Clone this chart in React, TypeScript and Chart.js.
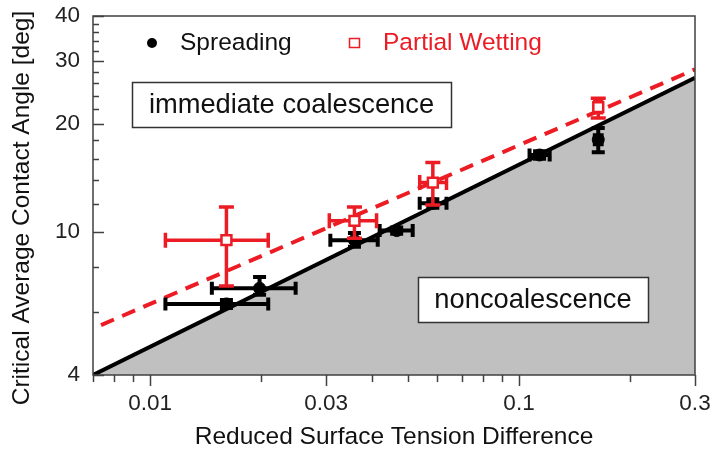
import React, { useEffect, useRef } from 'react';
import { Chart, registerables } from 'chart.js';

Chart.register(...registerables);

// ---- data ----
const spreadX = [0.0161, 0.0198, 0.0358, 0.0466, 0.0584, 0.1137, 0.164];
const spreadY = [6.31, 6.98, 9.5, 10.1, 12.03, 16.4, 18.1];
const spreadXLow = [0.011, 0.0147, 0.0308, 0.0419, 0.0538, 0.1068, 0.1605];
const spreadXHigh = [0.0209, 0.0248, 0.0414, 0.0515, 0.0636, 0.1211, 0.1675];
const spreadYLow = [6.15, 6.69, 9.1, 9.9, 11.7, 16.0, 16.7];
const spreadYHigh = [6.47, 7.5, 9.95, 10.3, 12.35, 16.8, 19.5];

const wetX = [0.0161, 0.0358, 0.0584, 0.164];
const wetY = [9.5, 10.75, 13.74, 22.3];
const wetXLow = [0.011, 0.0306, 0.0538, 0.1605];
const wetXHigh = [0.0209, 0.0411, 0.0636, 0.1675];
const wetYLow = [7.08, 9.62, 11.9, 20.8];
const wetYHigh = [11.75, 11.75, 15.64, 23.6];

const boundaryX = [0.007, 0.3];
const boundaryY = [4.0, 26.9];
const wetBoundaryX = [0.00736, 0.3];
const wetBoundaryY = [5.51, 28.4];

const xTicks = [0.007, 0.008, 0.009, 0.01, 0.02, 0.03, 0.04, 0.05, 0.06, 0.07, 0.08, 0.09, 0.1, 0.2, 0.3];
const xLabels = [0.01, 0.03, 0.1, 0.3];
const yTicks = [4, 6, 8, 10, 12, 14, 16, 18, 20, 22, 24, 26, 28, 30, 32, 34, 36, 38, 40];
const yLabels = [4, 10, 20, 30, 40];

const seriesNames = ['Spreading', 'Partial Wetting'];
const regionNames = ['immediate coalescence', 'noncoalescence'];
const xTitle = 'Reduced Surface Tension Difference';
const yTitle = 'Critical Average Contact Angle [deg]';

const RED = '#ec1c24';
const FONT = "'Liberation Sans', Arial, sans-serif";

const near = (a: number, list: number[]) => list.some((v) => Math.abs(v - a) / v < 1e-6);
const toPts = (xs: number[], ys: number[]) => xs.map((x, i) => ({ x, y: ys[i] }));

const errorSets: Record<string, any> = {
  [seriesNames[0]]: { x: spreadX, y: spreadY, xl: spreadXLow, xh: spreadXHigh, yl: spreadYLow, yh: spreadYHigh, color: '#000', lw: 4, cap: 6.5 },
  [seriesNames[1]]: { x: wetX, y: wetY, xl: wetXLow, xh: wetXHigh, yl: wetYLow, yh: wetYHigh, color: RED, lw: 3.5, cap: 7.5 },
};

const customPlugin = {
  id: 'customDraw',
  beforeDatasetDraw(chart: any, args: any) {
    const ds = chart.data.datasets[args.index];
    const e = errorSets[ds.label];
    if (!e) return;
    const { ctx, scales } = chart;
    const xs = scales.x, ys = scales.y;
    ctx.save();
    ctx.strokeStyle = e.color;
    ctx.lineWidth = e.lw;
    ctx.lineCap = 'butt';
    for (let i = 0; i < e.x.length; i++) {
      const px = xs.getPixelForValue(e.x[i]);
      const py = ys.getPixelForValue(e.y[i]);
      const x1 = xs.getPixelForValue(e.xl[i]);
      const x2 = xs.getPixelForValue(e.xh[i]);
      const y1 = ys.getPixelForValue(e.yl[i]);
      const y2 = ys.getPixelForValue(e.yh[i]);
      ctx.beginPath();
      if (x2 - x1 > 1) {
        ctx.moveTo(x1, py); ctx.lineTo(x2, py);
        ctx.moveTo(x1, py - e.cap); ctx.lineTo(x1, py + e.cap);
        ctx.moveTo(x2, py - e.cap); ctx.lineTo(x2, py + e.cap);
      }
      if (y1 - y2 > 1) {
        ctx.moveTo(px, y1); ctx.lineTo(px, y2);
        ctx.moveTo(px - e.cap, y1); ctx.lineTo(px + e.cap, y1);
        ctx.moveTo(px - e.cap, y2); ctx.lineTo(px + e.cap, y2);
      }
      ctx.stroke();
    }
    ctx.restore();
  },
  afterDraw(chart: any) {
    const { ctx, chartArea: a, scales } = chart;
    ctx.save();
    // frame
    ctx.strokeStyle = '#404040';
    ctx.lineWidth = 1.5;
    ctx.strokeRect(a.left, a.top, a.right - a.left, a.bottom - a.top);
    // ticks
    ctx.beginPath();
    xTicks.forEach((v) => {
      const p = Math.round(scales.x.getPixelForValue(v)) + 0.5;
      const len = near(v, xLabels) ? 11 : 7;
      ctx.moveTo(p, a.bottom); ctx.lineTo(p, a.bottom + len);
    });
    yTicks.forEach((v) => {
      const p = Math.round(scales.y.getPixelForValue(v)) + 0.5;
      const len = near(v, yLabels) ? 11 : 6;
      ctx.moveTo(a.left, p); ctx.lineTo(a.left + len, p);
    });
    ctx.stroke();

    // y title
    ctx.fillStyle = '#111';
    ctx.font = `24.5px ${FONT}`;
    ctx.textAlign = 'center';
    ctx.textBaseline = 'middle';
    ctx.save();
    ctx.translate(22, 208);
    ctx.rotate(-Math.PI / 2);
    ctx.fillText(yTitle, 0, 0);
    ctx.restore();

    // legend
    ctx.textAlign = 'left';
    ctx.fillStyle = '#000';
    ctx.beginPath();
    ctx.arc(152, 43, 5, 0, Math.PI * 2);
    ctx.fill();
    ctx.fillStyle = '#111';
    ctx.fillText(seriesNames[0], 180, 43);
    ctx.strokeStyle = RED;
    ctx.lineWidth = 1.5;
    ctx.strokeRect(349.5, 38.5, 10, 9);
    ctx.fillStyle = RED;
    ctx.fillText(seriesNames[1], 383, 43);

    // region boxes
    const boxes = [
      { l: 132, t: 82, r: 451, b: 127, text: regionNames[0] },
      { l: 418, t: 277, r: 648, b: 322, text: regionNames[1] },
    ];
    ctx.font = `27.3px ${FONT}`;
    ctx.textAlign = 'center';
    boxes.forEach((bx) => {
      ctx.fillStyle = '#fff';
      ctx.fillRect(bx.l, bx.t, bx.r - bx.l, bx.b - bx.t);
      ctx.strokeStyle = '#333';
      ctx.lineWidth = 1.5;
      ctx.strokeRect(bx.l + 0.5, bx.t + 0.5, bx.r - bx.l, bx.b - bx.t);
      ctx.fillStyle = '#111';
      ctx.fillText(bx.text, (bx.l + bx.r) / 2, (bx.t + bx.b) / 2 + 1);
    });
    ctx.restore();
  },
};

export default function App() {
  const ref = useRef<HTMLCanvasElement>(null);
  useEffect(() => {
    const canvas = ref.current;
    if (!canvas) return;
    Chart.defaults.font.family = FONT;
    const chart = new Chart(canvas, {
      type: 'scatter',
      data: {
        datasets: [
          {
            type: 'line',
            label: 'boundary',
            data: toPts(boundaryX, boundaryY),
            borderColor: '#000',
            borderWidth: 4,
            backgroundColor: '#c0c0c0',
            fill: 'start',
            pointRadius: 0,
            order: 3,
          },
          {
            type: 'line',
            label: 'wetBoundary',
            data: toPts(wetBoundaryX, wetBoundaryY),
            borderColor: RED,
            borderWidth: 4,
            borderDash: [14, 9],
            fill: false,
            pointRadius: 0,
            order: 2,
          },
          {
            label: seriesNames[0],
            data: toPts(spreadX, spreadY),
            pointStyle: 'circle',
            pointRadius: 6,
            backgroundColor: '#000',
            borderColor: '#000',
            borderWidth: 1,
            order: 1,
          },
          {
            label: seriesNames[1],
            data: toPts(wetX, wetY),
            pointStyle: 'rect',
            pointRadius: 7,
            backgroundColor: '#fff',
            borderColor: RED,
            borderWidth: 2.5,
            order: 0,
          },
        ] as any,
      },
      options: {
        responsive: false,
        animation: false,
        devicePixelRatio: 1,
        layout: { padding: { top: 16, right: 18, left: 0, bottom: 0 } },
        plugins: { legend: { display: false }, tooltip: { enabled: false } },
        scales: {
          x: {
            type: 'logarithmic',
            min: 0.007,
            max: 0.3,
            grid: { display: false, drawTicks: true, tickLength: 15 },
            border: { display: false },
            afterBuildTicks: (scale: any) => {
              scale.ticks = xTicks.map((v) => ({ value: v }));
            },
            afterFit: (scale: any) => {
              scale.height = 78;
            },
            ticks: {
              autoSkip: false,
              maxRotation: 0,
              padding: 0,
              color: '#222',
              font: { size: 22.5, family: FONT },
              callback: (v: any) => (near(Number(v), xLabels) ? String(Number(v)) : ''),
            },
            title: {
              display: true,
              text: xTitle,
              color: '#111',
              font: { size: 24.5, family: FONT },
              padding: { top: 0, bottom: 1 },
            },
          },
          y: {
            type: 'logarithmic',
            min: 4,
            max: 40,
            grid: { display: false, drawTicks: true, tickLength: 13 },
            border: { display: false },
            afterBuildTicks: (scale: any) => {
              scale.ticks = yTicks.map((v) => ({ value: v }));
            },
            afterFit: (scale: any) => {
              scale.width = 93;
            },
            ticks: {
              autoSkip: false,
              padding: 0,
              color: '#222',
              font: { size: 22.5, family: FONT },
              callback: (v: any) => (near(Number(v), yLabels) ? String(Number(v)) : ''),
            },
          },
        },
      },
      plugins: [customPlugin],
    } as any);
    return () => chart.destroy();
  }, []);
  return (
    <div style={{ position: 'fixed', left: 0, top: 0, width: 713, height: 453, background: '#fff' }}>
      <canvas ref={ref} width={713} height={453} style={{ display: 'block', width: 713, height: 453 }} />
    </div>
  );
}
